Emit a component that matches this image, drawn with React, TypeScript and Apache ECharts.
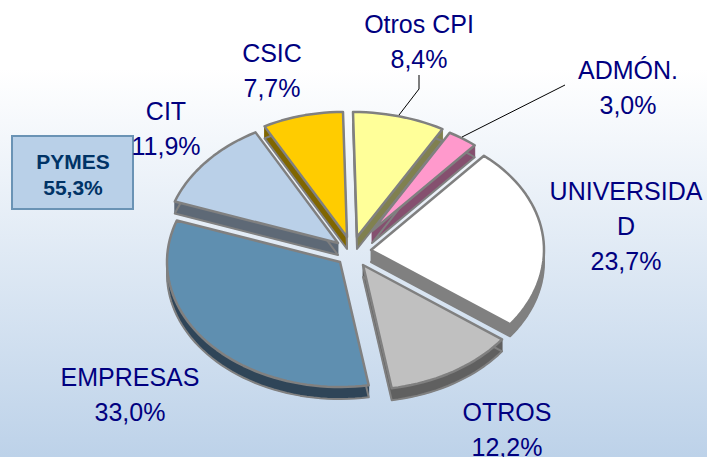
import React, { useEffect, useRef } from "react";
import * as echarts from "echarts";

const categories = ["Otros CPI", "ADMÓN.", "UNIVERSIDA\nD", "OTROS", "EMPRESAS", "CIT", "CSIC"];
const values = [8.4, 3.0, 23.7, 12.2, 33.0, 11.9, 7.7];
const boxName = "PYMES";
const boxValue = 55.3;

const topColors = ["#FFFF99", "#FF99CC", "#FFFFFF", "#C0C0C0", "#5F8FB0", "#BAD0E8", "#FFCC00"];
const sideColors = ["#808050", "#85506F", "#808080", "#606060", "#2F4558", "#5E6976", "#806600"];
const apexes = [[357, 237], [372, 231], [371, 250], [363, 265], [340, 262], [338, 243], [347, 237]];
const radiusScale = [1, 0.91, 1, 1, 1, 1, 1];
const labelCenters = [[419, 41], [628, 87], [626, 226], [507, 429.5], [130, 394], [166, 128], [272, 70]];

const RX = 173;
const RY = 125;
const DEPTH = 12;
const fmt = (v: number) => v.toFixed(1).replace(".", ",") + "%";
const total = values.reduce((a, b) => a + b, 0);

function renderItem(params: any, api: any) {
  const i = params.dataIndex;
  let before = 0;
  for (let k = 0; k < i; k++) before += values[k];
  const v = api.value(0);
  const a0 = (before / total) * Math.PI * 2;
  const a1 = ((before + v) / total) * Math.PI * 2;
  const [cx, cy] = apexes[i];
  const rs = radiusScale[i];
  const pts: number[][] = [[cx, cy]];
  const n = Math.max(2, Math.ceil((a1 - a0) / 0.04));
  for (let s = 0; s <= n; s++) {
    const a = a0 + ((a1 - a0) * s) / n;
    const c = Math.cos(a);
    const skew = -4 * Math.pow(Math.max(0, c), 6);
    pts.push([cx + Math.sin(a) * RX * rs + skew, cy - c * RY * rs]);
  }
  const children: any[] = [];
  const side = sideColors[i];
  pts.forEach((p, k) => {
    const q = pts[(k + 1) % pts.length];
    children.push({
      type: "polygon",
      shape: { points: [p, q, [q[0], q[1] + DEPTH], [p[0], p[1] + DEPTH]] },
      style: { fill: side, stroke: side, lineWidth: 0.5 },
    });
  });
  children.push({
    type: "polygon",
    shape: { points: pts.map((p) => [p[0], p[1] + DEPTH]) },
    style: { fill: side, stroke: "#808080", lineWidth: 2, lineJoin: "round" },
  });
  children.push({
    type: "polygon",
    shape: { points: pts },
    style: { fill: topColors[i], stroke: "#808080", lineWidth: 2.5, lineJoin: "round" },
  });
  return { type: "group", children };
}

export default function App() {
  const ref = useRef<HTMLDivElement>(null);
  useEffect(() => {
    const chart = echarts.init(ref.current!, null, { renderer: "svg" });
    const labels = categories.map((c, i) => ({
      type: "text",
      x: labelCenters[i][0],
      y: labelCenters[i][1],
      z: 20,
      style: {
        text: c + "\n" + fmt(values[i]),
        fill: "#000080",
        font: "25px 'Liberation Sans', Arial, sans-serif",
        lineHeight: 35,
        align: "center",
        verticalAlign: "middle",
      },
    }));
    chart.setOption({
      animation: false,
      backgroundColor: {
        type: "linear",
        x: 0,
        y: 0,
        x2: 0,
        y2: 1,
        colorStops: [
          { offset: 0, color: "#FFFFFF" },
          { offset: 0.15, color: "#FFFFFF" },
          { offset: 1, color: "#BDD2E9" },
        ],
      },
      series: [
        {
          type: "custom",
          coordinateSystem: "none",
          renderItem,
          silent: true,
          data: values.map((v) => [v]),
        },
      ],
      graphic: [
        {
          type: "polyline",
          z: 15,
          shape: { points: [[399, 115], [419, 89], [419, 75]] },
          style: { stroke: "#000000", lineWidth: 1, fill: "none" },
        },
        {
          type: "polyline",
          z: 15,
          shape: { points: [[462, 137], [565, 85]] },
          style: { stroke: "#000000", lineWidth: 1, fill: "none" },
        },
        {
          type: "rect",
          z: 15,
          shape: { x: 12, y: 136, width: 121, height: 73 },
          style: { fill: "#B9D0E8", stroke: "#6A93B5", lineWidth: 2 },
        },
        {
          type: "text",
          x: 73,
          y: 174,
          z: 20,
          style: {
            text: boxName + "\n" + fmt(boxValue),
            fill: "#003366",
            font: "bold 21px 'Liberation Sans', Arial, sans-serif",
            lineHeight: 26,
            align: "center",
            verticalAlign: "middle",
          },
        },
        ...labels,
      ],
    });
    return () => chart.dispose();
  }, []);
  return <div ref={ref} style={{ position: "fixed", left: 0, top: 0, width: 707, height: 457 }} />;
}
